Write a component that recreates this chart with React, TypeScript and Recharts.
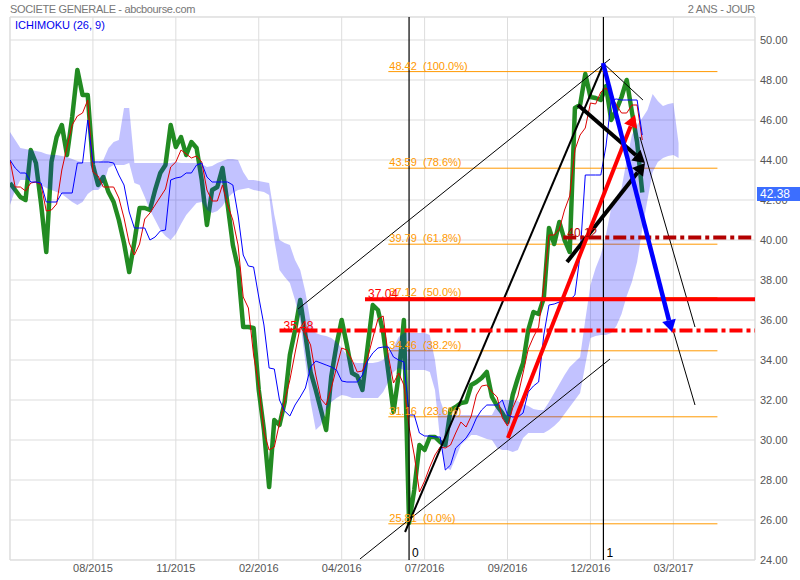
import { ComposedChart, Line, Area, XAxis, YAxis, CartesianGrid, ReferenceLine, ReferenceDot } from "recharts";

// one sample every 4 trading days
const STEP = 4;

const price = [
  42.85, 42.5, 42.15, 42.0, 44.5, 43.85, 41.8, 39.4, 43.9, 45.15,
  45.75, 44.25, 46.15, 48.5, 47.25, 47.25, 43.75, 42.75, 43.15, 42.4,
  41.9, 41.0, 39.85, 38.4, 39.9, 41.6, 41.6, 41.5, 42.5, 43.35,
  43.75, 45.75, 44.65, 45.15, 44.25, 44.9, 44.6, 43.0, 40.75, 42.5,
  42.65, 43.6, 41.75, 39.75, 38.6, 35.65, 35.65, 35.6, 32.5, 30.5,
  27.65, 31.0, 30.75, 31.9, 34.25, 35.5, 37.0, 35.25, 33.4, 32.5,
  31.5, 30.5, 33.2, 34.75, 36.0, 34.75, 33.35, 33.2, 32.5, 34.65,
  36.75, 36.5, 35.4, 33.4, 31.4, 33.25, 36.0, 25.85, 27.5, 29.75,
  29.5, 30.15, 30.15, 29.9, 29.75, 31.5, 31.65, 31.85, 31.9, 32.75,
  32.9, 33.1, 33.4, 32.15, 31.7, 31.35, 30.9, 32.25, 33.1, 33.85,
  35.5, 36.4, 36.3, 37.1, 40.6, 39.8, 40.9, 40.0, 39.4, 46.6,
  46.75, 48.3, 47.15, 47.1, 47.0, 47.7, 46.0, 46.5, 47.15, 48.0,
  46.4, 44.9, 42.38,
];

const tenkan = [
  44.0, 42.65, 42.65, 42.45, 42.85, 42.9, 42.75, 41.45, 41.5, 41.8,
  43.5, 44.65, 45.75, 46.2, 46.35, 47.0, 43.4, 43.2, 42.65, 42.65,
  42.65, 42.1, 41.1, 39.85, 39.25, 39.8, 41.05, 41.35, 41.75, 42.15,
  42.55, 43.65, 43.9, 44.5, 44.3, 44.1, 44.2, 43.9, 42.5, 41.95,
  41.95, 42.75, 41.75, 41.0, 39.75, 37.15, 36.6, 34.25, 32.75, 30.4,
  29.5, 29.65, 30.85, 31.95, 33.0, 34.35, 35.65, 35.3, 34.75, 33.25,
  32.05, 31.75, 32.6, 33.6, 34.6, 34.5, 34.0, 33.4, 33.45, 34.1,
  35.1, 36.05, 36.2, 34.2, 32.85, 33.35, 32.75, 30.65, 29.25, 27.4,
  27.95, 28.65, 29.25, 29.65, 29.6, 29.75, 30.35, 30.9, 30.65, 31.2,
  32.25, 32.7, 32.75, 32.4, 32.15, 31.1, 30.7, 31.6, 32.2, 33.35,
  34.55, 35.15, 35.65, 37.75, 40.25, 40.25, 40.55, 41.5, 42.2, 44.5,
  45.25, 45.6, 46.85, 46.8, 47.4, 47.6, 47.25, 46.75, 46.35, 46.35,
  46.75, 46.75, 45.0,
];

const kijun = [
  44.0, 43.6, 43.35, 43.35, 42.9, 42.9, 42.85, 41.9, 41.9, 41.9,
  42.35, 42.35, 42.35, 43.85, 43.85, 46.0, 43.9, 43.9, 43.9, 43.9,
  43.85, 43.25, 42.75, 41.4, 40.6, 40.6, 40.6, 40.0, 40.15, 40.45,
  40.5, 43.0, 43.1, 43.15, 43.35, 43.35, 43.75, 43.85, 43.15, 42.9,
  42.9, 42.9, 42.9, 42.75, 41.25, 39.25, 38.7, 38.65, 37.15, 35.75,
  33.6, 33.55, 32.0, 31.45, 31.2, 31.75, 32.15, 32.6, 33.65, 33.95,
  33.85, 33.75, 33.65, 33.5, 32.95, 32.9, 32.9, 32.9, 33.25, 33.95,
  34.35, 34.6, 34.65, 34.65, 34.15, 34.0, 33.9, 31.25, 31.25, 30.35,
  30.2, 30.2, 30.15, 30.15, 28.5, 28.75, 29.6, 29.85, 30.1, 30.5,
  31.1, 31.5, 31.75, 31.75, 31.75, 32.0, 31.25, 31.15, 31.15, 31.35,
  32.4, 32.7, 32.9, 35.25, 36.75, 36.8, 36.9, 36.95, 37.0, 37.25,
  39.25, 43.25, 43.25, 43.25, 43.25, 44.7, 47.0, 47.05, 47.0, 47.0,
  47.0, 47.0, 45.25,
];

// kumo, already shifted 26 days forward
const cloudHi = [
  45.4, 45.0, 44.6, 44.55, 44.5, 44.45, 44.4, 44.3, 44.25, 44.25,
  44.2, 44.15, 44.05, 43.95, 43.9, 43.9, 43.9, 43.85, 44.0, 44.6,
  44.9, 45.0, 46.6, 46.6, 43.85, 43.85, 43.85, 43.85, 43.85, 43.85,
  43.85, 43.85, 43.9, 43.85, 43.85, 43.85, 43.85, 43.8, 43.65, 43.7,
  43.85, 43.95, 44.05, 44.05, 44.0, 43.4, 43.0, 43.0, 42.95, 42.9,
  42.85, 41.25, 40.0, 39.85, 39.75, 39.0, 38.5, 37.4, 35.9, 35.35,
  35.25, 35.2, 35.1, 34.9, 34.6, 34.25, 33.9, 33.85, 33.85, 33.85,
  33.85, 33.9, 34.0, 34.35, 34.65, 35.15, 35.35, 35.35, 35.35, 35.35,
  35.35, 35.25, 34.0, 32.0, 31.25, 31.25, 31.25, 31.25, 31.25, 31.25,
  31.25, 31.25, 31.25, 31.25, 31.75, 32.0, 32.0, 32.0, 31.95, 31.8,
  31.7, 31.55, 31.5, 31.5, 31.9, 32.35, 32.8, 33.25, 33.65, 33.9,
  34.15, 36.0, 37.75, 38.6, 39.25, 40.25, 41.6, 42.15, 42.6, 44.0,
  45.25, 45.75, 46.1, 46.5, 47.3, 46.95, 46.7, 46.8, 46.85, 44.85,
];

const cloudLo = [
  41.75, 42.5, 43.0, 43.0, 43.0, 42.85, 42.75, 42.6, 42.5, 42.4,
  42.3, 42.1, 41.9, 41.75, 41.9, 42.3, 42.5, 42.5, 42.75, 43.6,
  43.75, 43.75, 43.75, 43.85, 42.85, 42.75, 42.15, 41.5, 41.0, 40.5,
  40.2, 40.0, 40.3, 40.8, 41.25, 41.55, 41.85, 41.9, 41.5, 41.35,
  41.45, 41.7, 42.1, 42.35, 42.5, 42.55, 42.6, 42.5, 42.45, 42.4,
  42.25, 40.0, 38.5, 38.15, 37.85, 37.0, 35.9, 33.9, 31.9, 30.5,
  30.75, 31.5, 31.9, 32.1, 32.25, 32.2, 32.1, 32.1, 32.1, 32.1,
  32.1, 32.1, 32.4, 32.9, 33.4, 33.6, 33.5, 33.5, 33.5, 33.5,
  33.5, 33.4, 32.5, 30.0, 28.65, 28.5, 29.1, 29.75, 30.0, 30.25,
  30.25, 30.15, 30.05, 30.0, 29.6, 29.5, 29.5, 29.4, 29.5, 30.1,
  30.35, 30.35, 30.35, 30.35, 30.5, 30.7, 30.95, 31.3, 31.65, 32.0,
  32.35, 33.75, 35.1, 35.2, 35.25, 35.25, 35.35, 35.7, 36.3, 37.2,
  37.9, 38.9, 40.55, 42.0, 43.4, 43.9, 44.1, 44.2, 44.25, 44.1,
];

const tickDays = [64, 128, 192, 256, 320, 384, 448, 512];
const tickLabels = ["08/2015", "11/2015", "02/2016", "04/2016", "07/2016", "09/2016", "12/2016", "03/2017"];
const yTicks = [24, 26, 28, 30, 32, 34, 36, 38, 40, 42, 44, 46, 48, 50];
const Y_TOP = 51.15;
const X_END = 575;

// fibonacci retracement 25.81 -> 48.42
const fibLevels = [48.42, 43.59, 39.79, 37.12, 34.46, 31.16, 25.81];
const fibPct = ["100.0%", "78.6%", "61.8%", "50.0%", "38.2%", "23.6%", "0.0%"];
const fibFrom = 292;
const fibTo = 546;

// horizontal support / resistance
const solidLevel = { value: 37.04, from: 274 };
const dashLevel = { value: 35.48, from: 208 };
const darkLevel = { value: 40.12, from: 427 };

const pivotDays = [308, 458];
const pivotNames = ["0", "1"];

// [day1, price1, day2, price2]
const thinLines = [
  [222.3, 36.55, 463.1, 49.05],
  [270.1, 24.05, 463.1, 34.05],
  [457.7, 48.85, 488.5, 47.0],
  [486.2, 45.15, 528.7, 35.65],
  [511.7, 35.5, 528.7, 31.75],
];
const fanLine = [304.9, 25.4, 457.7, 48.75];
const blueArrow = [457.7, 48.85, 510.9, 35.4];
const redArrow = [384.3, 30.1, 482.4, 46.25];
const blackArrows = [
  [438.4, 46.75, 490.1, 43.85],
  [429.9, 38.9, 490.1, 43.85],
];

const rows = cloudHi.map((hi, i) => ({
  day: i * STEP,
  price: price[i],
  tenkan: tenkan[i],
  kijun: kijun[i],
  cloud: [cloudLo[i], hi],
}));

const FONT = 'Arial, "Liberation Sans", sans-serif';
const W = 800;
const H = 580;

const seg = (s: number[]) => [
  { x: s[0], y: s[1] },
  { x: s[2], y: s[3] },
];

const arrowShape = (color: string, w: number) => (p: any) => {
  const { x1, y1, x2, y2 } = p;
  const a = Math.atan2(y2 - y1, x2 - x1);
  const L = 12;
  const hw = 7;
  const bx = x2 - L * Math.cos(a);
  const by = y2 - L * Math.sin(a);
  const nx = -Math.sin(a) * hw;
  const ny = Math.cos(a) * hw;
  return (
    <g>
      <line x1={x1} y1={y1} x2={bx} y2={by} stroke={color} strokeWidth={w} />
      <polygon points={`${x2},${y2} ${bx + nx},${by + ny} ${bx - nx},${by - ny}`} fill={color} />
    </g>
  );
};

const textShape = (txt: string, color: string, dx: number, dy: number, size = 11) => (p: any) => (
  <text x={p.cx + dx} y={p.cy + dy} fill={color} fontSize={size} fontFamily={FONT} style={{ whiteSpace: "pre" }}>
    {txt}
  </text>
);

const layer: any = { position: "absolute", left: 0, top: 0 };

export default function App() {
  return (
    <div style={{ position: "absolute", left: 0, top: 0, width: W, height: H, background: "#fff", fontFamily: FONT }}>
      {/* base layer: grid, axes and the price */}
      <div style={layer}>
        <ComposedChart width={W} height={H} data={rows} margin={{ top: 17, right: 0, bottom: 0, left: 10 }}>
          <CartesianGrid stroke="#dddddd" />
          <XAxis
            dataKey="day"
            type="number"
            domain={[0, X_END]}
            ticks={tickDays}
            interval={0}
            allowDataOverflow
            tickFormatter={(v: number) => tickLabels[tickDays.indexOf(v)]}
            tickLine={false}
            axisLine={{ stroke: "#dddddd" }}
            tick={{ fill: "#555", fontSize: 11, fontFamily: FONT }}
            tickSize={2}
            tickMargin={2}
            height={20}
          />
          <YAxis
            orientation="right"
            type="number"
            domain={[24, Y_TOP]}
            ticks={yTicks}
            interval={0}
            allowDataOverflow
            tickFormatter={(v: number) => v.toFixed(2)}
            tickLine={false}
            axisLine={{ stroke: "#dddddd" }}
            tick={{ fill: "#555", fontSize: 11, fontFamily: FONT }}
            tickSize={3}
            tickMargin={2}
            width={45}
          />
          <ReferenceLine y={Y_TOP} stroke="#dddddd" />
          <ReferenceLine x={0} stroke="#dddddd" />
          {fibLevels.map((v) => (
            <ReferenceLine key={"f" + v} segment={[{ x: fibFrom, y: v }, { x: fibTo, y: v }]} stroke="#ff9900" strokeWidth={1} ifOverflow="hidden" />
          ))}
          <Line dataKey="price" type="linear" stroke="#228b22" strokeWidth={4.5} strokeLinejoin="round" dot={false} activeDot={false} isAnimationActive={false} />
        </ComposedChart>
      </div>

      {/* top layer: kumo over the price, ichimoku lines and drawings */}
      <div style={layer}>
        <ComposedChart width={W} height={H} data={rows} margin={{ top: 17, right: 45, bottom: 20, left: 10 }}>
          <XAxis dataKey="day" type="number" domain={[0, X_END]} allowDataOverflow hide />
          <YAxis type="number" domain={[24, Y_TOP]} allowDataOverflow hide />
          <Area dataKey="cloud" type="linear" stroke="none" fill="#0000ff" fillOpacity={0.24} activeDot={false} isAnimationActive={false} />
          <Line dataKey="tenkan" type="linear" stroke="#dd0000" strokeWidth={1} dot={false} activeDot={false} isAnimationActive={false} />
          <Line dataKey="kijun" type="linear" stroke="#0000ff" strokeWidth={1} dot={false} activeDot={false} isAnimationActive={false} />

          {pivotDays.map((d) => (
            <ReferenceLine key={"p" + d} x={d} stroke="#000" strokeWidth={1.2} />
          ))}
          {thinLines.map((s, i) => (
            <ReferenceLine key={"t" + i} segment={seg(s)} stroke="#000" strokeWidth={1} ifOverflow="hidden" />
          ))}
          <ReferenceLine segment={seg(fanLine)} stroke="#000" strokeWidth={2} ifOverflow="hidden" />

          <ReferenceLine segment={[{ x: solidLevel.from, y: solidLevel.value }, { x: X_END, y: solidLevel.value }]} stroke="#ff0000" strokeWidth={4} ifOverflow="hidden" />
          <ReferenceLine segment={[{ x: dashLevel.from, y: dashLevel.value }, { x: X_END, y: dashLevel.value }]} stroke="#ff0000" strokeWidth={4} strokeDasharray="13 4 4 4" ifOverflow="hidden" />
          <ReferenceLine segment={[{ x: darkLevel.from, y: darkLevel.value }, { x: X_END, y: darkLevel.value }]} stroke="#b30000" strokeWidth={4} strokeDasharray="13 4 4 4" ifOverflow="hidden" />

          {blackArrows.map((s, i) => (
            <ReferenceLine key={"b" + i} segment={seg(s)} stroke="#000" strokeWidth={4} ifOverflow="hidden" shape={arrowShape("#000", 4)} />
          ))}
          <ReferenceLine segment={seg(redArrow)} stroke="#ff0000" strokeWidth={4} ifOverflow="hidden" shape={arrowShape("#ff0000", 4)} />
          <ReferenceLine segment={seg(blueArrow)} stroke="#0000ff" strokeWidth={4.5} ifOverflow="hidden" shape={arrowShape("#0000ff", 4.5)} />

          {fibLevels.map((v, i) => (
            <ReferenceDot
              key={"fl" + v}
              x={fibFrom}
              y={v}
              r={0}
              ifOverflow="visible"
              shape={textShape(`${v.toFixed(2)}  (${fibPct[i]})`, "#ff9900", 1, -2)}
            />
          ))}
          <ReferenceDot x={solidLevel.from} y={solidLevel.value} r={0} ifOverflow="visible" shape={textShape(solidLevel.value.toFixed(2), "#ff0000", 3, -1, 12)} />
          <ReferenceDot x={dashLevel.from} y={dashLevel.value} r={0} ifOverflow="visible" shape={textShape(dashLevel.value.toFixed(2), "#ff0000", 4, 0, 12)} />
          <ReferenceDot x={darkLevel.from} y={darkLevel.value} r={0} ifOverflow="visible" shape={textShape(darkLevel.value.toFixed(2), "#b30000", 4, -1, 12)} />
          {pivotDays.map((d, i) => (
            <ReferenceDot key={"pl" + d} x={d} y={24.15} r={0} ifOverflow="visible" shape={textShape(pivotNames[i], "#000", 3, 0, 12)} />
          ))}
        </ComposedChart>
      </div>

      <div style={{ position: "absolute", left: 10, top: 2, fontSize: 11, lineHeight: "14px", color: "#777", letterSpacing: -0.35 }}>
        SOCIETE GENERALE - abcbourse.com
      </div>
      <div style={{ position: "absolute", right: 45, top: 2, fontSize: 11, lineHeight: "14px", color: "#777", letterSpacing: -0.3 }}>
        2 ANS - JOUR
      </div>
      <div style={{ position: "absolute", left: 15, top: 19, fontSize: 11, lineHeight: "13px", color: "#0000ee" }}>
        ICHIMOKU (26, 9)
      </div>
      <div
        style={{
          position: "absolute",
          left: 757,
          top: 187,
          width: 43,
          height: 14,
          background: "#3c6eff",
          color: "#fff",
          fontSize: 12,
          lineHeight: "14px",
          paddingLeft: 3,
          boxSizing: "border-box",
        }}
      >
        {price[price.length - 1].toFixed(2)}
      </div>
    </div>
  );
}
